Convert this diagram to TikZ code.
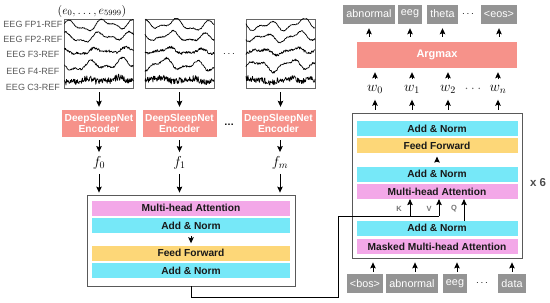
\documentclass[tikz,border=0pt]{standalone}
\usepackage{fontspec}
\setmainfont{Liberation Sans}
\usetikzlibrary{positioning, arrows.meta}

\definecolor{attn}{RGB}{243,168,232}
\definecolor{norm}{RGB}{118,232,248}
\definecolor{ffwd}{RGB}{253,215,120}
\definecolor{salmon}{RGB}{246,146,138}
\definecolor{tokgray}{RGB}{148,148,148}

\begin{document}
\begin{tikzpicture}[x=1pt, y=-1pt,
            node distance=2pt,
            chan/.style={text=black!65, font=\fontsize{9}{10}\selectfont},
            sigbox/.style={draw=black!60, line width=0.8pt, minimum width=69pt, minimum height=69pt, inner sep=0pt},
            trace/.style={line width=0.7pt, color=black, line join=round},
            encoder/.style={fill=salmon, text=white, font=\bfseries\fontsize{10.2}{11.5}\selectfont, align=center, minimum width=74pt, minimum height=27pt, inner sep=0pt},
            block/.style={draw=black!65, line width=0.8pt, inner sep=0pt},
            bar/.style={text=black!90, font=\bfseries\fontsize{10.2}{11}\selectfont, minimum height=15pt, inner sep=0pt},
            encbar/.style={bar, minimum width=198pt},
            decbar/.style={bar, minimum width=161pt},
            token/.style={fill=tokgray, text=white, font=\fontsize{10.8}{12}\selectfont, minimum height=19pt, inner xsep=3pt, inner ysep=0pt},
            feat/.style={font=\fontsize{14}{16}\selectfont},
            kvq/.style={text=black!55, font=\bfseries\fontsize{7.5}{9}\selectfont},
            arrow/.style={->, >={Stealth[length=6pt, width=5.5pt, inset=1pt]}, line width=0.9pt},
            wire/.style={line width=0.8pt}
        ]
            \useasboundingbox (0,0) rectangle (550,303);

            \node[sigbox] (s0) at (99,53.5) {};
            \node[sigbox] (s1) at (179.5,53.5) {};
            \node[sigbox] (s2) at (280.5,53.5) {};
            \node[font=\fontsize{12}{14}\selectfont] (elab) at (92,11) {$(e_0,\ldots,e_{5999})$};
            \foreach \c/\y in {FP1/24, FP2/39, F3/54, F4/71, C3/87}
                \node[chan] (ch\c) at (33,\y) {EEG \c-REF};

            \pgfmathsetseed{11}
            \foreach \s/\cx/\ph in {s0/99/0, s1/179.5/80, s2/280.5/160} {
                \begin{scope}
                    \clip (\s.north west) rectangle (\s.south east);
                    \foreach \cy/\a/\n [count=\k] in {25/4/0.5, 37/3.5/0.7, 51/2.2/1.3, 65/4/1.0, 80/1.5/3.2}
                        \draw[trace] plot[domain=-34.5:34.5, samples=140] ({\cx+\x}, {\cy-\a*sin(\x*11+\ph+\k*45)-0.5*\a*sin(\x*23+\k*70+\ph)-0.4*\a*sin(\x*5+2*\ph)+\n*rand});
                \end{scope}
            }
            \node (sdots) at (229,54) {$\cdots$};

            \node[encoder] (e0) at (99,123.5) {DeepSleepNet\\Encoder};
            \node[encoder] (e1) at (179.5,123.5) {DeepSleepNet\\Encoder};
            \node[encoder] (e2) at (278.5,123.5) {DeepSleepNet\\Encoder};
            \node[font=\bfseries] (edots) at (229,125) {\dots};

            \node[feat] (f0) at (99,163) {$f_0$};
            \node[feat] (f1) at (179.5,163) {$f_1$};
            \node[feat] (fm) at (280,163) {$f_m$};

            \node[block, minimum width=208pt, minimum height=91pt] (encblk) at (191,240.5) {};
            \node[encbar, fill=attn] (mha) at (191,208) {Multi-head Attention};
            \node[encbar, fill=norm, below=of mha] (add1) {Add \& Norm};
            \node[encbar, fill=ffwd] (ff) at (191,253) {Feed Forward};
            \node[encbar, fill=norm, below=of ff] (add2) {Add \& Norm};

            \draw[arrow, shorten <=4pt, shorten >=3pt] (s0) -- (e0);
            \draw[arrow, shorten <=4pt, shorten >=3pt] (s1) -- (e1);
            \draw[arrow, shorten <=4pt, shorten >=3pt] (s2) -- (s2 |- e2.north);
            \draw[arrow, shorten <=3pt, shorten >=1pt] (e0) -- (f0);
            \draw[arrow, shorten <=3pt, shorten >=1pt] (e1) -- (f1);
            \draw[arrow, shorten <=3pt, shorten >=1pt] (e2.south -| fm) -- (fm);
            \draw[arrow, shorten <=1pt, shorten >=2pt] (f0) -- (f0 |- encblk.north);
            \draw[arrow, shorten <=1pt, shorten >=2pt] (f1) -- (f1 |- encblk.north);
            \draw[arrow, shorten <=1pt, shorten >=2pt] (fm) -- (fm |- encblk.north);
            \draw[arrow, shorten <=3pt, shorten >=2pt] (add1) -- (ff);

            \node[block, minimum width=170pt, minimum height=145pt] (decblk) at (437,185.5) {};
            \node[decbar, fill=norm] (dadd2) at (437,128.5) {Add \& Norm};
            \node[decbar, fill=ffwd, below=of dadd2] (dff) {Feed Forward};
            \node[decbar, fill=norm] (dadd1) at (437,174) {Add \& Norm};
            \node[decbar, fill=attn, below=of dadd1] (dmha) {Multi-head Attention};
            \node[decbar, fill=norm] (dadd0) at (437,228) {Add \& Norm};
            \node[decbar, fill=attn, below=3pt of dadd0] (dmask) {Masked Multi-head Attention};
            \node[text=black!70, font=\bfseries\fontsize{11.5}{13}\selectfont] (times) at (538,183) {x 6};
            \draw[arrow, shorten <=4pt, shorten >=3pt] (dadd1) -- (dff);

            \coordinate (turn) at (338,297);
            \coordinate (kin) at (410,216);
            \coordinate (vin) at (439,216);
            \coordinate (qin) at (464,221);
            \draw[wire] (encblk.south) |- (turn) |- (vin);
            \draw[arrow] (kin) -- (kin |- dmha.south);
            \draw[arrow] (vin) -- (vin |- dmha.south);
            \draw[arrow] (qin) -- (qin |- dmha.south);
            \node[kvq] (klab) at (399,209) {K};
            \node[kvq] (vlab) at (429,209) {V};
            \node[kvq] (qlab) at (454,209) {Q};

            \node[encoder, minimum width=160pt, minimum height=26pt, font=\bfseries\fontsize{11}{12}\selectfont] (argmax) at (437,55) {Argmax};
            \node[feat] (w0) at (375,89) {$w_0$};
            \node[feat] (w1) at (412,89) {$w_1$};
            \node[feat] (w2) at (448,89) {$w_2$};
            \node[feat, text=black!60] (wdots) at (473,89) {$\cdots$};
            \node[feat] (wn) at (498,89) {$w_n$};
            \foreach \w in {w0, w1, w2, wn} {
                \draw[arrow, shorten <=3pt, shorten >=3pt] (decblk.north -| \w) -- (\w);
                \draw[arrow, shorten <=2pt, shorten >=4pt] (\w) -- (argmax.south -| \w);
            }

            \node[token] (tabn) at (369,14) {abnormal};
            \node[token] (teeg) at (410,14) {eeg};
            \node[token] (ttheta) at (442.5,14) {theta};
            \node (tdots) at (468,14) {$\cdots$};
            \node[token] (teos) at (499,14) {<eos>};
            \foreach \t in {tabn, teeg, ttheta, teos}
                \draw[arrow, shorten <=5pt, shorten >=4.5pt] (argmax.north -| \t) -- (\t);

            \node[token] (bbos) at (365,283.5) {<bos>};
            \node[token] (babn) at (412,283.5) {abnormal};
            \node[token] (beeg) at (455,283.5) {eeg};
            \node (bdots) at (482,283.5) {$\cdots$};
            \node[token] (bdata) at (512,283.5) {data};
            \foreach \t/\dx in {bbos/8, babn/3, beeg/2, bdata/0}
                \draw[arrow, shorten <=2pt, shorten >=4pt] ([xshift=\dx pt]\t.north) -- ([xshift=\dx pt]\t.north |- decblk.south);
        \end{tikzpicture}
\end{document}
